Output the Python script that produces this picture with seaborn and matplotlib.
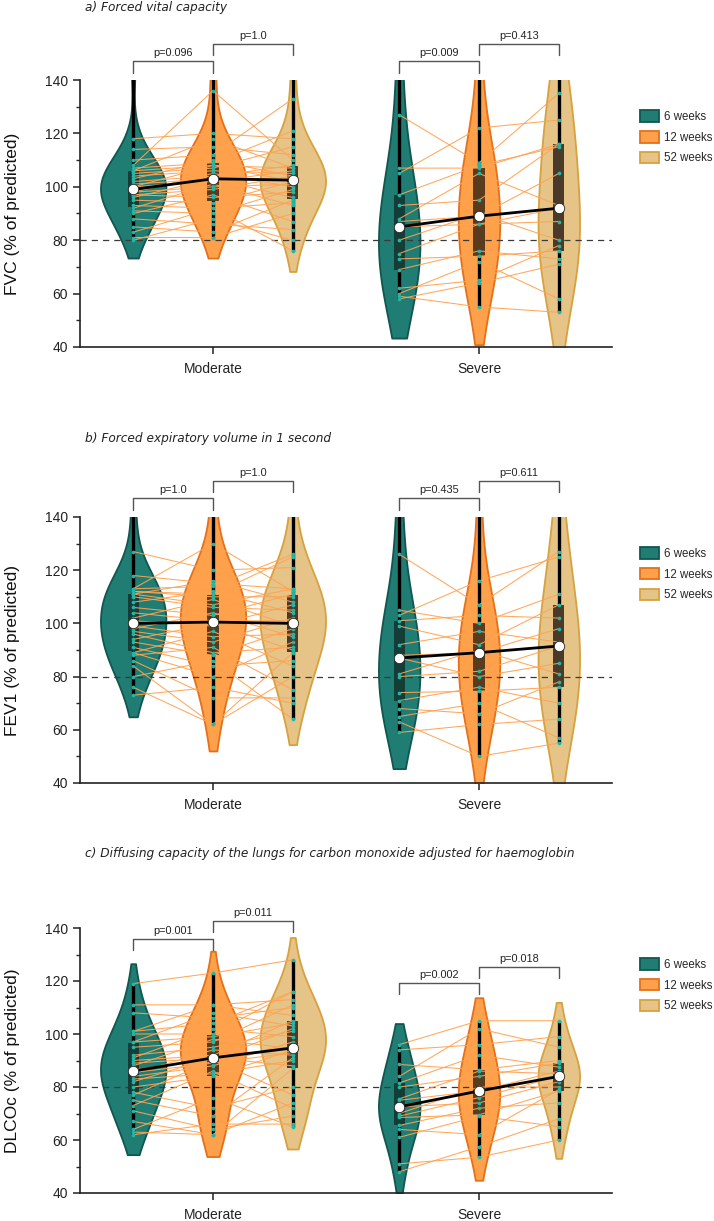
import numpy as np
import pandas as pd
import matplotlib
matplotlib.use("Agg")
import matplotlib.pyplot as plt
from matplotlib.patches import Patch, Rectangle
from matplotlib.colors import to_rgb
from matplotlib.ticker import MultipleLocator
import seaborn as sns

# ---------------- data ----------------
groups = ["Moderate", "Severe"]
times = ["6 weeks", "12 weeks", "52 weeks"]

# values per time point (listed low to high); pairing orders below link patients
fvc_mod_6w = [80, 81, 83, 85, 88, 90, 91, 92, 93, 95, 96, 97, 97, 98, 98, 100, 100, 101, 102, 103, 104, 105, 106, 106, 107, 108, 110, 114, 118, 145]
fvc_mod_12w = [81, 83, 86, 88, 90, 92, 92, 94, 96, 97, 99, 100, 101, 102, 103, 103, 104, 105, 106, 107, 108, 108, 109, 110, 112, 115, 118, 120, 136, 150]
fvc_mod_52w = [76, 80, 84, 87, 90, 93, 94, 95, 96, 98, 99, 100, 101, 102, 102, 103, 104, 104, 105, 106, 107, 107, 108, 110, 112, 115, 118, 121, 133, 148]
fvc_sev_6w = [58, 59, 60, 62, 69, 73, 75, 80, 85, 87, 88, 93, 97, 105, 107, 127, 148]
fvc_sev_12w = [55, 64, 65, 72, 74, 76, 86, 86, 89, 90, 95, 105, 107, 108, 109, 122, 150]
fvc_sev_52w = [53, 58, 71, 73, 76, 78, 80, 87, 92, 93, 105, 115, 116, 116, 125, 135, 148]

fev1_mod_6w = [73, 76, 80, 84, 86, 88, 89, 89, 91, 93, 94, 96, 97, 98, 99, 101, 102, 104, 106, 108, 110, 111, 111, 112, 112, 113, 113, 118, 127, 145]
fev1_mod_12w = [62, 62, 72, 76, 80, 84, 86, 88, 89, 91, 93, 95, 97, 99, 100, 101, 103, 104, 106, 107, 109, 110, 111, 112, 114, 115, 116, 120, 130, 148]
fev1_mod_52w = [64, 70, 72, 75, 80, 84, 86, 89, 90, 91, 93, 95, 96, 98, 99, 101, 102, 104, 105, 107, 108, 110, 111, 112, 113, 113, 121, 125, 126, 146]
fev1_sev_6w = [59, 63, 65, 68, 71, 74, 80, 81, 87, 88, 92, 99, 101, 103, 105, 126, 145]
fev1_sev_12w = [50, 62, 66, 70, 74.5, 76, 80, 82, 89, 90, 92, 97, 100, 103, 107, 116, 148]
fev1_sev_52w = [55, 57, 64, 70, 76, 78, 81, 85, 91.5, 93, 98, 102, 107, 111, 125, 127, 146]

dlco_mod_6w = [62, 63, 64, 67, 71, 73, 75, 77, 78, 80, 82, 83, 84, 85, 85.5, 86.5, 88, 89, 90, 91, 92, 95, 97, 97, 100, 101, 101, 108, 111, 119]
dlco_mod_12w = [62, 62, 64, 66, 69, 72, 76, 84, 85, 86, 88, 89, 90, 90.5, 91, 91, 92, 94, 95, 97, 98, 99, 100, 102, 104, 106, 108, 111, 111, 123]
dlco_mod_52w = [65, 66, 69, 72, 74, 77, 80, 87, 88, 90, 91, 92, 93, 94, 94.5, 95, 97, 99, 101, 102, 103, 104, 105, 107, 110, 111, 113, 116, 116, 128]
dlco_sev_6w = [48, 51, 61, 64, 65.5, 68.5, 69, 70, 72.5, 75, 75.5, 80, 81.5, 84, 88.5, 94, 96]
dlco_sev_12w = [53.5, 57.5, 62, 69, 69.5, 72, 74, 76, 78.5, 80, 84, 86, 86.5, 92, 96, 102, 105]
dlco_sev_52w = [60, 65, 68, 74, 78.5, 79, 80, 82, 84, 85, 86, 87.5, 89, 90, 95, 99, 105]

# patient pairing (index into the lists above, per patient)
order_mod_12w = [3, 0, 6, 1, 2, 9, 4, 12, 5, 7, 14, 8, 10, 17, 11, 13, 20, 15, 16, 23, 18, 19, 26, 21, 22, 28, 24, 25, 27, 29]
order_mod_52w = [1, 4, 0, 7, 2, 3, 10, 5, 6, 13, 8, 9, 16, 11, 12, 19, 14, 15, 22, 17, 18, 25, 20, 21, 27, 23, 28, 24, 26, 29]
order_sev_12w = [1, 0, 3, 2, 5, 4, 7, 9, 6, 8, 11, 10, 13, 15, 12, 14, 16]
order_sev_52w = [2, 0, 1, 5, 3, 4, 8, 6, 7, 10, 9, 12, 11, 14, 13, 15, 16]

panel_titles = ["a) Forced vital capacity",
                "b) Forced expiratory volume in 1 second",
                "c) Diffusing capacity of the lungs for carbon monoxide adjusted for haemoglobin"]
ylabels = ["FVC (% of predicted)", "FEV1 (% of predicted)", "DLCOc (% of predicted)"]
pvals = [[("p=0.096", "p=1.0"), ("p=0.009", "p=0.413")],
         [("p=1.0", "p=1.0"), ("p=0.435", "p=0.611")],
         [("p=0.001", "p=0.011"), ("p=0.002", "p=0.018")]]
bracket_levels = [[(147, 153.5), (147, 153.5)],
                  [(147, 153.5), (147, 153.5)],
                  [(135.8, 142.6), (119.4, 125.4)]]

panel_data = [
    {"Moderate": (fvc_mod_6w, fvc_mod_12w, fvc_mod_52w), "Severe": (fvc_sev_6w, fvc_sev_12w, fvc_sev_52w)},
    {"Moderate": (fev1_mod_6w, fev1_mod_12w, fev1_mod_52w), "Severe": (fev1_sev_6w, fev1_sev_12w, fev1_sev_52w)},
    {"Moderate": (dlco_mod_6w, dlco_mod_12w, dlco_mod_52w), "Severe": (dlco_sev_6w, dlco_sev_12w, dlco_sev_52w)},
]
orders = {"Moderate": (order_mod_12w, order_mod_52w), "Severe": (order_sev_12w, order_sev_52w)}

# ---------------- style ----------------
fills = ["#1f7d73", "#ffa04a", "#e6c488"]
edges = ["#11564f", "#e5701a", "#d7a13e"]
box_cols = ["#153d38", "#5a3b1d", "#4b3a29"]
dot_col = "#27b5a4"
pair_col = "#ffa352"

sns.set_style("ticks")
plt.rcParams["font.family"] = ["Liberation Sans", "DejaVu Sans"]

W, H = 714, 1221
fig = plt.figure(figsize=(W / 100, H / 100), dpi=100)

ax_tops = [80, 517, 928]
ax_bots = [347, 783, 1193]
ax_left, ax_right = 80, 612
title_y = [8, 439, 853]

hue_offset = 0.3
group_gap = {"Moderate": 0.18, "Severe": 0.48}

for p in range(3):
    ax = fig.add_axes([ax_left / W, 1 - ax_bots[p] / H,
                       (ax_right - ax_left) / W, (ax_bots[p] - ax_tops[p]) / H])
    # build long table with patient pairing
    rows = []
    for g in groups:
        v6, v12, v52 = panel_data[p][g]
        o12, o52 = orders[g]
        for i in range(len(v6)):
            rows.append((g, i, "6 weeks", v6[i]))
            rows.append((g, i, "12 weeks", v12[o12[i]]))
            rows.append((g, i, "52 weeks", v52[o52[i]]))
    df = pd.DataFrame(rows, columns=["group", "pid", "time", "value"])

    for g in groups:
        n0 = len(ax.collections)
        sns.violinplot(data=df[df.group == g], x="group", y="value", hue="time",
                       order=groups, hue_order=times, palette=fills, inner=None,
                       cut=0.8, bw_adjust=1.3, width=0.9, gap=group_gap[g],
                       density_norm="width", linewidth=1.3, saturation=1,
                       legend=False, ax=ax, zorder=1)
        for coll in ax.collections[n0:]:
            fc = np.array(coll.get_facecolor()[0][:3])
            k = int(np.argmin([np.sum((fc - np.array(to_rgb(c))) ** 2) for c in fills]))
            coll.set_edgecolor(edges[k])
            coll.set_linewidth(1.3)

    ax.axhline(80, color="#3a3a3a", lw=0.9, ls=(0, (5, 4)), zorder=2)

    for gi, g in enumerate(groups):
        sub = df[df.group == g]
        xs = [gi + (ti - 1) * hue_offset for ti in range(3)]
        meds = []
        for ti, t in enumerate(times):
            vals = sub[sub.time == t]["value"].to_numpy()
            q1, med, q3 = np.percentile(vals, [25, 50, 75])
            meds.append(med)
            ax.plot([xs[ti], xs[ti]], [vals.min(), vals.max()], color="black", lw=2.4,
                     zorder=3, solid_capstyle="butt")
            ax.add_patch(Rectangle((xs[ti] - 0.021, q1), 0.042, q3 - q1,
                                   facecolor=box_cols[ti], edgecolor="none", zorder=4))
        # paired lines
        for pid, psub in sub.groupby("pid"):
            psub = psub.set_index("time").loc[times]
            ax.plot(xs, psub["value"].to_numpy(), color=pair_col, lw=0.75, alpha=0.95, zorder=5)
        for ti, t in enumerate(times):
            vals = sub[sub.time == t]["value"].to_numpy()
            ax.scatter(np.full(len(vals), xs[ti]), vals, s=7, color=dot_col, linewidths=0, zorder=6)
        ax.plot(xs, meds, color="black", lw=2, zorder=7)
        ax.plot(xs, meds, ls="none", marker="o", ms=7.5, mfc="white", mec="#222222", mew=0.6, zorder=8)

        # brackets
        y1, y2 = bracket_levels[p][gi]
        for (xa, xb, yb, txt) in [(xs[0], xs[1], y1, pvals[p][gi][0]), (xs[1], xs[2], y2, pvals[p][gi][1])]:
            ax.plot([xa, xa, xb, xb], [yb - 4.2, yb, yb, yb - 4.2], color="#555555", lw=1.0,
                    clip_on=False, zorder=9)
            ax.text((xa + xb) / 2, yb + 3.0, txt, ha="center", va="center", fontsize=7.8,
                    color="#222222", clip_on=False)

    ax.set_xlim(-0.5, 1.5)
    ax.set_ylim(40, 140)
    ax.yaxis.set_major_locator(MultipleLocator(20))
    ax.yaxis.set_minor_locator(MultipleLocator(10))
    ax.set_xticks([0, 1])
    ax.set_xticklabels(groups)
    ax.tick_params(axis="both", labelsize=10, colors="#222222", width=1.1, length=5)
    ax.tick_params(axis="y", which="minor", width=1.0, length=3)
    ax.tick_params(axis="x", pad=6)
    ax.set_xlabel("")
    ax.set_ylabel(ylabels[p], fontsize=12.5, color="#111111")
    ax.yaxis.set_label_coords((20 - ax_left) / (ax_right - ax_left), 0.5)
    for s in ["top", "right"]:
        ax.spines[s].set_visible(False)
    for s in ["left", "bottom"]:
        ax.spines[s].set_linewidth(1.2)
        ax.spines[s].set_color("#222222")
    ax.set_facecolor("none")

    handles = [Patch(facecolor=fills[i], edgecolor=edges[i], lw=1.3, label=times[i]) for i in range(3)]
    ax.legend(handles=handles, loc="upper left", bbox_to_anchor=(1.052, 0.886), frameon=False,
              fontsize=8.3, handlelength=1.7, handleheight=1.15, handletextpad=0.45,
              labelspacing=0.7, borderpad=0, borderaxespad=0)

    fig.text(85 / W, 1 - title_y[p] / H, panel_titles[p], fontsize=8.7, style="italic",
             family="DejaVu Sans", color="#222222", ha="left", va="center")

fig.savefig("out.png", dpi=100, facecolor="white")
